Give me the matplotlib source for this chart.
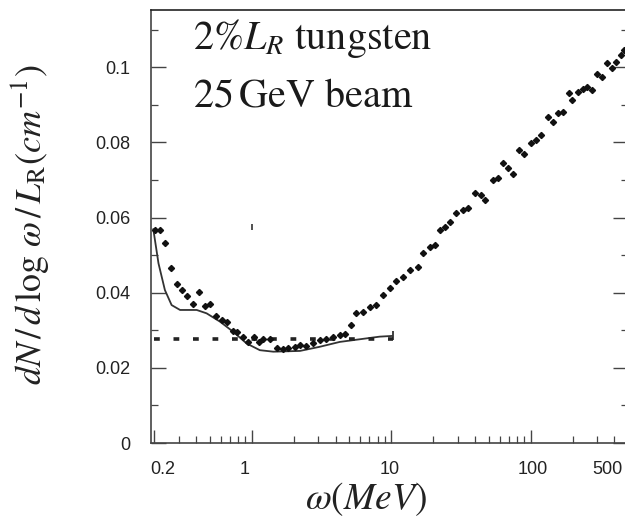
import matplotlib
matplotlib.use("Agg")
import matplotlib.pyplot as plt
import matplotlib.transforms as mtransforms
from matplotlib.ticker import LogLocator, MultipleLocator, FixedLocator, NullFormatter

plt.rcParams['mathtext.fontset'] = 'stix'

# --- data ---
theory_w = [0.197, 0.215, 0.239, 0.267, 0.307, 0.404, 0.476, 0.593, 0.738, 0.92,
            1.146, 1.43, 2.22, 3.08, 4.29, 5.96, 8.28, 10.3]
theory_y = [0.0571, 0.0478, 0.0407, 0.0367, 0.0354, 0.0354, 0.0345, 0.0323, 0.0296, 0.0265,
            0.0247, 0.0243, 0.0245, 0.0256, 0.0269, 0.0276, 0.0283, 0.0285]

flat_w = [0.2, 10.3]
flat_y = [0.0278, 0.0278]

data_w = [0.204, 0.221, 0.239, 0.265, 0.29, 0.315, 0.346, 0.382, 0.422, 0.463,
          0.503, 0.555, 0.61, 0.662, 0.731, 0.789, 0.871, 0.946, 1.04, 1.13,
          1.21, 1.35, 1.51, 1.67, 1.83, 2.04, 2.22, 2.47, 2.76, 3.08,
          3.44, 3.84, 4.29, 4.65, 5.19, 5.63, 6.27, 7.04, 7.83, 8.74,
          9.78, 10.9, 12.2, 13.6, 15.6, 16.9, 18.9, 20.5, 22.3, 24.2,
          26.3, 29.3, 32.8, 35.6, 39.7, 44.4, 46.9, 53.7, 58.4, 63.3,
          68.8, 74.6, 83.0, 90.4, 101, 110, 119, 133, 144, 157,
          170, 189, 199, 218, 236, 256, 277, 302, 327, 355,
          385, 408, 444, 470]
data_y = [0.0566, 0.0566, 0.0533, 0.0466, 0.0423, 0.0407, 0.0391, 0.0370, 0.0402, 0.0364,
          0.0371, 0.0338, 0.0327, 0.0323, 0.0299, 0.0296, 0.0283, 0.0269, 0.0283, 0.0269,
          0.0276, 0.0276, 0.0252, 0.0249, 0.0252, 0.0256, 0.0261, 0.0258, 0.0265, 0.0274,
          0.0276, 0.0283, 0.0287, 0.0290, 0.0314, 0.0347, 0.0349, 0.0361, 0.0367, 0.0394,
          0.0412, 0.0432, 0.0442, 0.0460, 0.0469, 0.0505, 0.0522, 0.0527, 0.0566, 0.0575,
          0.0589, 0.0611, 0.0620, 0.0624, 0.0664, 0.0660, 0.0646, 0.0699, 0.0704, 0.0744,
          0.0731, 0.0717, 0.0779, 0.0770, 0.0797, 0.0806, 0.0819, 0.0868, 0.0855, 0.0877,
          0.0881, 0.0930, 0.0912, 0.0934, 0.0943, 0.0948, 0.0939, 0.0983, 0.0974, 0.1010,
          0.0997, 0.1014, 0.1032, 0.1045]

stray_w = [1.0]
stray_y = [0.0575]

xtick_vals = [0.2, 1, 10, 100, 500]
xtick_labels = ['0.2', '1', '10', '100', '500']
xtick_shift_px = [9, -7, -1, 2, -21]   # label nudges as in the scanned figure
ytick_vals = [0, 0.02, 0.04, 0.06, 0.08, 0.1]
ytick_labels = ['0', '0.02', '0.04', '0.06', '0.08', '0.1']

# --- figure ---
fig = plt.figure(figsize=(6.25, 5.21), dpi=100)
ax = fig.add_axes([0.2416, 0.1497, 0.7632, 0.831])

ax.plot(theory_w, theory_y, color='#333333', lw=1.3, solid_capstyle='butt')
ax.errorbar([theory_w[-1]], [theory_y[-1]], yerr=0.0012, fmt='none',
            ecolor='#333333', elinewidth=1.3, capsize=0)
ax.plot(flat_w, flat_y, color='#222222', lw=2.6, dashes=(1.6, 3.8))
ax.plot(data_w, data_y, linestyle='none', marker='D', ms=3.1, color='#111111')
ax.plot(stray_w, stray_y, linestyle='none', marker='|', ms=5, color='#333333', mew=1.2)

ax.set_xscale('log')
ax.set_xlim(0.19, 500)
ax.set_ylim(0, 0.1152)

ax.xaxis.set_major_locator(FixedLocator(xtick_vals))
ax.set_xticklabels(xtick_labels)
ax.xaxis.set_minor_locator(LogLocator(base=10, subs=(2, 3, 4, 5, 6, 7, 8, 9), numticks=20))
ax.xaxis.set_minor_formatter(NullFormatter())

ax.set_yticks(ytick_vals)
ax.set_yticklabels(ytick_labels)
ax.yaxis.set_minor_locator(MultipleLocator(0.01))

ax.tick_params(axis='x', which='major', direction='in', length=9.5, width=1.0,
               pad=13, colors='#444444', labelcolor='#222222')
ax.tick_params(axis='x', which='minor', direction='in', length=5, width=0.9, colors='#444444')
ax.tick_params(axis='y', which='major', direction='in', length=10.5, width=1.0,
               pad=15, right=True, colors='#444444', labelcolor='#222222')
ax.tick_params(axis='y', which='minor', direction='in', length=5, width=0.9,
               right=True, colors='#444444')

for lab in ax.get_xticklabels() + ax.get_yticklabels():
    lab.set_fontfamily('Liberation Sans')
    lab.set_fontsize(13)
    lab.set_color('#222222')

for tick, dx in zip(ax.xaxis.get_major_ticks(), xtick_shift_px):
    lab = tick.label1
    lab.set_transform(lab.get_transform() +
                      mtransforms.ScaledTranslation(dx / 100.0, 0, fig.dpi_scale_trans))

for sp in ax.spines.values():
    sp.set_color('#444444')
    sp.set_linewidth(1.2)
ax.spines['top'].set_color('#222222')

ax.set_xlabel(r'$\omega(MeV)$', fontsize=27, color='#222222')
ax.xaxis.set_label_coords(0.451, -0.085)
ax.xaxis.label.set_va('top')
ax.set_ylabel(r'$dN\,/\,d\,\log\,\omega\,/\,L_{\mathrm{R}}(cm^{-1})$', fontsize=26,
              color='#222222')
ax.yaxis.set_label_coords(-0.21, 0.505)

ax.text(0.088, 0.935, r'2%$L_R$ tungsten', transform=ax.transAxes, fontsize=29,
        family='STIXGeneral', color='#1a1a1a', va='center', ha='left')
ax.text(0.088, 0.80, r'25$\,$GeV beam', transform=ax.transAxes, fontsize=29,
        family='STIXGeneral', color='#1a1a1a', va='center', ha='left')

fig.savefig('out.png', dpi=100)
